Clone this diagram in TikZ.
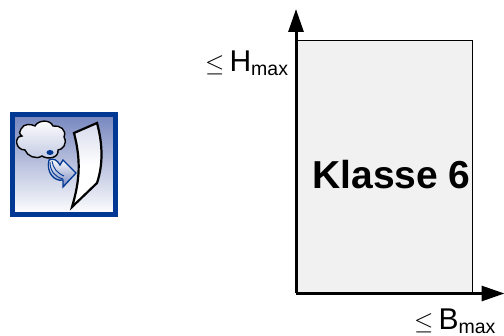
\documentclass[tikz,border=0pt]{standalone}
\usepackage{fontspec}
\setmainfont{Liberation Sans}
\usetikzlibrary{arrows.meta,positioning,shapes}
\definecolor{iconblue}{RGB}{0,56,147}
\definecolor{icontop}{RGB}{118,134,190}
\tikzset{
  axis/.style={line width=3pt,-{Triangle[length=23pt,width=15pt]}},
  klasse/.style={draw,line width=1pt,fill=gray!11!white,inner sep=0pt,minimum width=176pt,minimum height=252pt},
  axislabel/.style={inner sep=0pt,anchor=base west}
}
\newcommand{\maxlabel}[1]{\fontsize{30}{30}\selectfont$\leq$\,#1\raisebox{-4pt}{\fontsize{19.5}{20}\selectfont max}}
\begin{document}
\begin{tikzpicture}[x=1pt,y=-1pt]
\useasboundingbox (0,0) rectangle (504,336);
\node[klasse] (box) at (384.5,167) {};
\node[inner sep=0pt,anchor=base] (name) at (391.5,189) {\fontsize{39}{39}\selectfont\bfseries Klasse 6};
\coordinate (origin) at (box.south west);
\coordinate (topend) at (box.south west |- 0,9);
\coordinate (rightend) at (504.5,0 |- box.south west);
\draw[axis] (origin) -- (topend);
\draw[axis] (origin) -- (rightend);
\node[axislabel] (hmax) at (205,72) {\maxlabel{H}};
\node[axislabel] (bmax) at (414,330) {\maxlabel{B}};
% icon
\node[draw=iconblue,line width=5pt,top color=icontop,bottom color=white,inner sep=0pt,minimum width=103pt,minimum height=100pt] (icon) at (63.5,164.5) {};
% panel
\draw[line width=2.2pt,line join=miter,top color=icontop!30!white,bottom color=white,middle color=white] (74,133) -- (97,123) .. controls (103,145) and (103,165) .. (97,183) -- (72,207) .. controls (80,180) and (81,160) .. cycle;
% cloud
\draw[line width=1.4pt,top color=white,bottom color=icontop!45!white]
  (21,129) .. controls (24,123) and (31,124) .. (35,126)
  .. controls (38,120) and (50,119) .. (53,126)
  .. controls (60,125) and (67,130) .. (64,137)
  .. controls (68,144) and (62,150) .. (58,150)
  .. controls (59,158) and (48,160) .. (42,156)
  .. controls (36,160) and (27,156) .. (25,150)
  .. controls (15,150) and (14,136) .. (22,136)
  .. controls (19,134) and (19,131) .. cycle;
\fill[iconblue] (50,152.5) ellipse (3.5 and 2.5);
% blast arrow
\draw[iconblue,line width=1.3pt,top color=white,bottom color=icontop]
  (49,160) .. controls (54,158) and (57,160) .. (60,165)
  -- (63,160) -- (76,173) -- (63,187) -- (63,180)
  .. controls (54,182) and (46,172) .. cycle;
\draw[iconblue,line width=.9pt] (52,161) .. controls (53,168) and (57,173) .. (64,176);
\draw[iconblue,line width=.9pt] (50,162) .. controls (50,171) and (55,177) .. (63,179);
\end{tikzpicture}
\end{document}
